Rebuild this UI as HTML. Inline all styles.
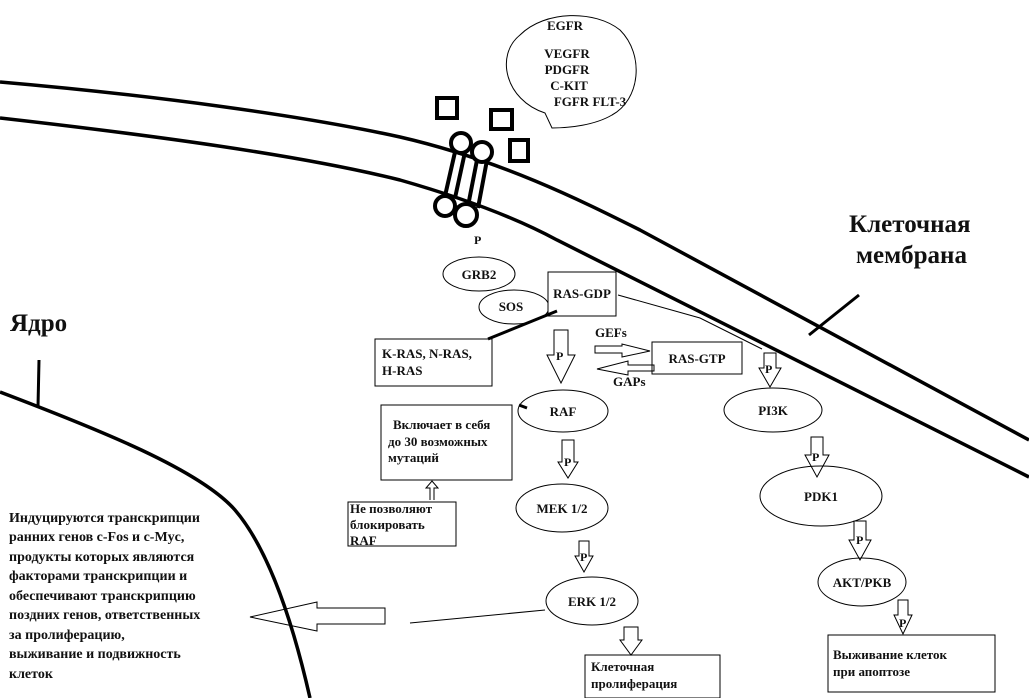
<!DOCTYPE html>
<html><head><meta charset="utf-8"><style>
body{margin:0;background:#fff}
svg{display:block}
text{font-family:"Liberation Serif","DejaVu Serif",serif;font-weight:bold;fill:#111}
</style></head><body>
<svg width="1029" height="698" viewBox="0 0 1029 698" xmlns="http://www.w3.org/2000/svg">
<g fill="none" stroke="#000">
<!-- membrane -->
<path d="M0,82 C150,95 300,115 400,137 C500,160 580,200 640,230 L1029,440" stroke-width="3.5"/>
<path d="M0,118 C150,135 300,155 400,180 C470,200 520,220 557,240 L1029,477" stroke-width="3.5"/>
<line x1="809" y1="335" x2="859" y2="295" stroke-width="3"/>
<!-- nucleus -->
<path d="M0,392 C100,430 200,470 235,510 C265,545 290,610 310,698" stroke-width="3.5"/>
<line x1="39" y1="360" x2="38" y2="407" stroke-width="3"/>
<!-- bubble -->
<path d="M552,128 L545,113 C505,100 495,55 520,35 C545,10 595,10 620,30 C645,55 640,100 612,115 C595,125 570,128 552,128 Z" stroke-width="1"/>
<!-- squares -->
<rect x="437" y="98" width="20" height="20" stroke-width="4"/>
<rect x="491" y="110" width="21" height="19" stroke-width="4"/>
<rect x="510" y="140" width="18" height="21" stroke-width="4"/>
<!-- receptor -->
<g stroke-width="4">
<line x1="455" y1="152" x2="445" y2="196"/><line x1="465" y1="152" x2="455" y2="198"/>
<line x1="477" y1="160" x2="468" y2="206"/><line x1="487" y1="160" x2="478" y2="208"/>
<circle cx="461" cy="143" r="10" fill="#fff"/><circle cx="482" cy="152" r="10" fill="#fff"/>
<circle cx="445" cy="206" r="10" fill="#fff"/><circle cx="466" cy="215" r="11" fill="#fff"/>
</g>
<!-- nodes -->
<g stroke-width="1">
<ellipse cx="479" cy="274" rx="36" ry="17"/>
<ellipse cx="514" cy="307" rx="35" ry="17"/>
<rect x="548" y="272" width="68" height="44" fill="#fff"/>
<rect x="375" y="339" width="117" height="47"/>
<rect x="652" y="342" width="90" height="32"/>
<ellipse cx="563" cy="411" rx="45" ry="21"/>
<ellipse cx="773" cy="410" rx="49" ry="22"/>
<rect x="381" y="405" width="131" height="75"/>
<rect x="348" y="502" width="108" height="44"/>
<ellipse cx="562" cy="508" rx="46" ry="24"/>
<ellipse cx="592" cy="601" rx="46" ry="24"/>
<ellipse cx="821" cy="496" rx="61" ry="30"/>
<ellipse cx="862" cy="582" rx="44" ry="24"/>
<rect x="585" y="655" width="135" height="43"/>
<rect x="828" y="635" width="167" height="57"/>
<path d="M618,295 L700,318 L762,349"/>
<path d="M410,623 L545,610"/>
<!-- down arrows -->
<path d="M554,330 H568 V355 H575 L561,383 L547,355 H554 Z"/>
<path d="M764,353 H776 V368 H781 L770,387 L759,368 H764 Z"/>
<path d="M562,440 H574 V462 H578 L568,478 L558,462 H562 Z"/>
<path d="M579,541 H589 V556 H593 L584,572 L575,556 H579 Z"/>
<path d="M624,627 H638 V640 H642 L631,655 L620,640 H624 Z"/>
<path d="M811,437 H823 V455 H829 L817,477 L805,455 H811 Z"/>
<path d="M854,521 H866 V540 H871 L860,560 L849,540 H854 Z"/>
<path d="M898,600 H908 V615 H912 L903,634 L894,615 H898 Z"/>
<!-- horizontal arrows -->
<path d="M595,346 H622 V344 L650,351 L622,357 V353 H595 Z"/>
<path d="M654,365 H628 V361 L597,369 L628,375 V371 H654 Z"/>
<path d="M385,608 H317 V602 L250,617 L317,631 V624 H385 Z"/>
<path d="M430,500 V488 H426 L432,481 L438,488 H434 V500"/>
</g>
<line x1="557" y1="311" x2="488" y2="339" stroke-width="3"/>
<line x1="519" y1="405" x2="527" y2="408" stroke-width="3"/>
</g>
<g font-size="13">
<text x="565" y="30" text-anchor="middle">EGFR</text>
<text x="567" y="58" text-anchor="middle">VEGFR</text>
<text x="567" y="74" text-anchor="middle">PDGFR</text>
<text x="569" y="90" text-anchor="middle">C-KIT</text>
<text x="590" y="106" text-anchor="middle">FGFR  FLT-3</text>
<text x="474" y="244" font-size="12">P</text>
<text x="479" y="279" text-anchor="middle">GRB2</text>
<text x="511" y="311" text-anchor="middle">SOS</text>
<text x="582" y="298" text-anchor="middle">RAS-GDP</text>
<text x="382" y="358">K-RAS, N-RAS,</text>
<text x="382" y="375">H-RAS</text>
<text x="556" y="360" font-size="12">P</text>
<text x="595" y="337">GEFs</text>
<text x="613" y="386">GAPs</text>
<text x="697" y="363" text-anchor="middle">RAS-GTP</text>
<text x="765" y="373" font-size="12">P</text>
<text x="563" y="416" text-anchor="middle">RAF</text>
<text x="773" y="415" text-anchor="middle">PI3K</text>
<text x="393" y="429">Включает в себя</text>
<text x="388" y="446">до 30 возможных</text>
<text x="388" y="462">мутаций</text>
<text x="350" y="513">Не позволяют</text>
<text x="350" y="529">блокировать</text>
<text x="350" y="545">RAF</text>
<text x="564" y="466" font-size="12">P</text>
<text x="562" y="513" text-anchor="middle">MEK 1/2</text>
<text x="580" y="561" font-size="12">P</text>
<text x="592" y="606" text-anchor="middle">ERK 1/2</text>
<text x="591" y="671">Клеточная</text>
<text x="591" y="688">пролиферация</text>
<text x="812" y="461" font-size="12">P</text>
<text x="821" y="501" text-anchor="middle">PDK1</text>
<text x="856" y="544" font-size="12">P</text>
<text x="862" y="587" text-anchor="middle">AKT/PKB</text>
<text x="899" y="627" font-size="12">P</text>
<text x="833" y="659">Выживание клеток</text>
<text x="833" y="676">при апоптозе</text>
</g>
<text x="849" y="232" font-size="25">Клеточная</text>
<text x="856" y="263" font-size="25">мембрана</text>
<text x="10" y="331" font-size="25">Ядро</text>
<g font-size="14">
<text x="9" y="522">Индуцируются транскрипции</text>
<text x="9" y="541">ранних генов c-Fos и c-Myc,</text>
<text x="9" y="561">продукты которых являются</text>
<text x="9" y="580">факторами транскрипции и</text>
<text x="9" y="600">обеспечивают транскрипцию</text>
<text x="9" y="619">поздних генов, ответственных</text>
<text x="9" y="639">за пролиферацию,</text>
<text x="9" y="658">выживание и подвижность</text>
<text x="9" y="678">клеток</text>
</g>
</svg>
</body></html>
